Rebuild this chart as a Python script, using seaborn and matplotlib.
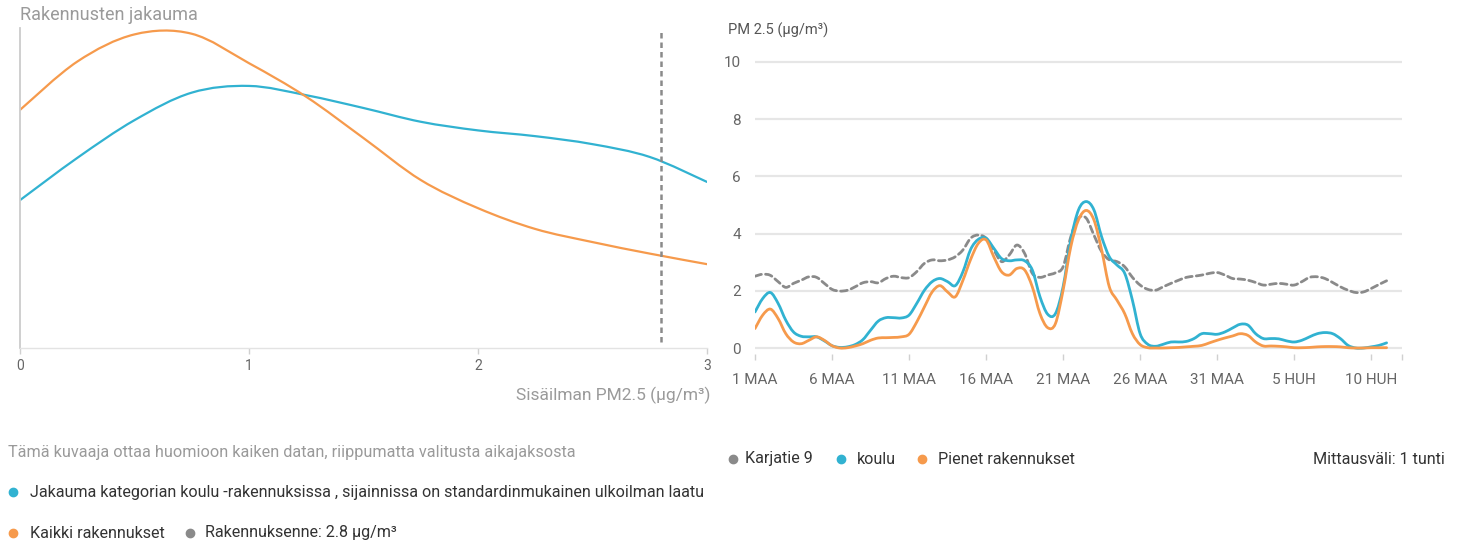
import matplotlib
matplotlib.use("Agg")
import matplotlib.pyplot as plt
import numpy as np
import seaborn as sns
from matplotlib.patches import PathPatch
from matplotlib.path import Path

# --- left chart: distribution curves ---
dens_x = np.arange(0, 3.001, 0.25)
dens_school = [0.462, 0.594, 0.712, 0.798, 0.819, 0.790, 0.750, 0.707, 0.680,
               0.662, 0.637, 0.597, 0.519]
dens_all = [0.744, 0.895, 0.980, 0.982, 0.890, 0.785, 0.656, 0.525, 0.437,
            0.372, 0.331, 0.295, 0.262]
own_value = 2.8

# --- right chart: PM2.5 time series, half-day steps from 1 MAA ---
days = np.arange(0, 41.01, 0.5)
karjatie = [2.51, 2.58, 2.54, 2.32, 2.12, 2.26, 2.37, 2.49, 2.47, 2.26, 2.05,
            1.99, 2.02, 2.14, 2.28, 2.32, 2.28, 2.43, 2.51, 2.46, 2.46, 2.67,
            2.96, 3.08, 3.05, 3.08, 3.19, 3.43, 3.84, 3.95, 3.84, 3.43, 3.02,
            3.25, 3.60, 3.31, 2.61, 2.47, 2.55, 2.63, 2.84, 3.89, 4.54, 4.54,
            3.95, 3.37, 3.08, 3.02, 2.84, 2.47, 2.20, 2.05, 2.02, 2.14, 2.26,
            2.37, 2.47, 2.51, 2.55, 2.61, 2.64, 2.55, 2.43, 2.41, 2.37, 2.29,
            2.20, 2.23, 2.26, 2.23, 2.20, 2.32, 2.47, 2.49, 2.43, 2.29, 2.14,
            2.02, 1.94, 1.96, 2.08, 2.22, 2.35]
koulu = [1.26, 1.73, 1.94, 1.56, 0.97, 0.56, 0.41, 0.39, 0.39, 0.25, 0.08,
         0.02, 0.04, 0.12, 0.29, 0.62, 0.94, 1.06, 1.06, 1.05, 1.15, 1.56,
         2.02, 2.32, 2.43, 2.32, 2.18, 2.67, 3.45, 3.80, 3.84, 3.49, 3.13,
         3.05, 3.08, 3.05, 2.73, 1.79, 1.18, 1.20, 2.14, 3.78, 4.83, 5.12,
         4.83, 3.89, 3.19, 2.90, 2.61, 1.67, 0.50, 0.13, 0.06, 0.13, 0.21,
         0.21, 0.23, 0.33, 0.50, 0.50, 0.48, 0.56, 0.70, 0.83, 0.80, 0.50,
         0.33, 0.33, 0.32, 0.25, 0.21, 0.27, 0.39, 0.50, 0.54, 0.50, 0.33,
         0.09, 0.00, 0.00, 0.04, 0.09, 0.18]
pienet = [0.68, 1.15, 1.36, 1.03, 0.50, 0.21, 0.15, 0.27, 0.39, 0.27, 0.08,
          0.00, 0.01, 0.07, 0.15, 0.27, 0.35, 0.36, 0.37, 0.39, 0.48, 0.91,
          1.44, 1.96, 2.18, 1.96, 1.79, 2.37, 3.10, 3.66, 3.78, 3.19, 2.67,
          2.55, 2.78, 2.73, 2.14, 1.20, 0.71, 0.85, 2.02, 3.54, 4.48, 4.81,
          4.48, 3.43, 2.14, 1.67, 1.20, 0.50, 0.12, 0.01, 0.00, 0.00, 0.01,
          0.02, 0.04, 0.06, 0.09, 0.18, 0.27, 0.35, 0.42, 0.50, 0.44, 0.21,
          0.07, 0.07, 0.06, 0.04, 0.01, 0.01, 0.02, 0.04, 0.05, 0.05, 0.04,
          0.01, 0.00, 0.00, 0.01, 0.01, 0.01]
tick_days = [0, 5, 10, 15, 20, 25, 30, 35, 40]
tick_labels = ["1 MAA", "6 MAA", "11 MAA", "16 MAA", "21 MAA", "26 MAA",
               "31 MAA", "5 HUH", "10 HUH"]
y_ticks = [0, 2, 4, 6, 8, 10]

BLUE = "#31b2d1"
ORANGE = "#f69a4c"
GRAY = "#8a8a8a"


def spline(ax, x, y, **kw):
   # spline-style line (like the original chart) drawn as bezier path in data coords
   pts = np.column_stack([np.asarray(x, float), np.asarray(y, float)])
   ext = np.vstack([pts[0], pts, pts[-1]])
   verts = [pts[0]]
   codes = [Path.MOVETO]
   for i in range(len(pts) - 1):
      p0, p1, p2, p3 = ext[i], ext[i + 1], ext[i + 2], ext[i + 3]
      verts += [p1 + (p2 - p0) / 6, p2 - (p3 - p1) / 6, p2]
      codes += [Path.CURVE4] * 3
   ax.add_patch(PathPatch(Path(verts, codes), fill=False, capstyle='round',
                          joinstyle='round', **kw))


sns.set_theme(style="white")
plt.rcParams['font.family'] = ['Roboto', 'DejaVu Sans']

W, H = 1461, 547
fig = plt.figure(figsize=(W / 100, H / 100), dpi=100)

# left distribution chart
ax1 = fig.add_axes([20 / W, 1 - 348 / H, 687 / W, 320 / H])
spline(ax1, dens_x, dens_school, edgecolor=BLUE, lw=1.6)
spline(ax1, dens_x, dens_all, edgecolor=ORANGE, lw=1.6)
ax1.axvline(own_value, ymin=0.02, ymax=0.99, color=GRAY, lw=1.8,
            linestyle=(0, (2.2, 1.6)))
ax1.set_xlim(0, 3)
ax1.set_ylim(0, 1)
ax1.set_yticks([])
ax1.set_xticks([0, 1, 2, 3])
ax1.tick_params(axis='x', length=4, width=1, color='#d0d0d0', pad=4,
                labelsize=10, labelcolor='#666666', bottom=True)
for s in ['top', 'right']:
   ax1.spines[s].set_visible(False)
ax1.spines['left'].set_color('#cccccc')
ax1.spines['left'].set_linewidth(1.3)
ax1.spines['bottom'].set_color('#e3e3e3')
ax1.spines['bottom'].set_linewidth(1)

# right time series chart
y0, y1 = -0.2, 10.1
px_unit = 28.6
bot_px = 348 + 0.2 * px_unit
top_px = 62 - 0.1 * px_unit
ax2 = fig.add_axes([755 / W, 1 - bot_px / H, 647 / W, (bot_px - top_px) / H])
spline(ax2, days, karjatie, edgecolor=GRAY, lw=2.0, linestyle=(0, (2.4, 1.5)))
spline(ax2, days, koulu, edgecolor=BLUE, lw=2.0)
spline(ax2, days, pienet, edgecolor=ORANGE, lw=2.0)
ax2.set_xlim(0, 42)
ax2.set_ylim(y0, y1)
ax2.set_yticks(y_ticks)
ax2.set_xticks(tick_days)
ax2.set_xticklabels(tick_labels)
ax2.set_xticks([42], minor=True)
ax2.yaxis.grid(True, color='#e6e6e6', lw=1.6)
ax2.xaxis.grid(False)
ax2.set_axisbelow(True)
for s in ax2.spines.values():
   s.set_visible(False)
ax2.tick_params(axis='y', length=0, pad=10, labelsize=11, labelcolor='#666666')
ax2.tick_params(axis='x', which='both', length=4, width=1, color='#d0d0d0',
                pad=10, labelsize=11, labelcolor='#666666', bottom=True)

# texts and legends in pixel coordinates
ov = fig.add_axes([0, 0, 1, 1])
ov.set_xlim(0, W)
ov.set_ylim(H, 0)
ov.axis('off')

ov.text(20, 15, "Rakennusten jakauma", fontsize=13, color='#9a9a9a', va='center')
ov.text(710, 395, "Sisäilman PM2.5 (µg/m³)", fontsize=12.5, color='#9a9a9a',
        va='center', ha='right')
ov.text(728, 30, "PM 2.5 (µg/m³)", fontsize=10.5, color='#555555', va='center')
ov.text(8, 452, "Tämä kuvaaja ottaa huomioon kaiken datan, riippumatta valitusta aikajaksosta",
        fontsize=11.7, color='#9a9a9a', va='center')

legend_items = [
   (13, 30, 492, BLUE, "Jakauma kategorian koulu -rakennuksissa , sijainnissa on standardinmukainen ulkoilman laatu"),
   (13, 30, 533, ORANGE, "Kaikki rakennukset"),
   (190, 205, 533, GRAY, f"Rakennuksenne: {own_value} µg/m³"),
   (733, 745, 459, GRAY, "Karjatie 9"),
   (841, 857, 459, BLUE, "koulu"),
   (922, 938, 459, ORANGE, "Pienet rakennukset"),
]
for xd, xt, y, c, label in legend_items:
   ov.plot([xd], [y], marker='o', ms=6, color=c, ls='none')
   ov.text(xt, y, label, fontsize=11.6, color='#333333', va='center')

ov.text(1445, 459, "Mittausväli: 1 tunti", fontsize=11.6, color='#333333',
        va='center', ha='right')

fig.savefig("out.png", dpi=100)
